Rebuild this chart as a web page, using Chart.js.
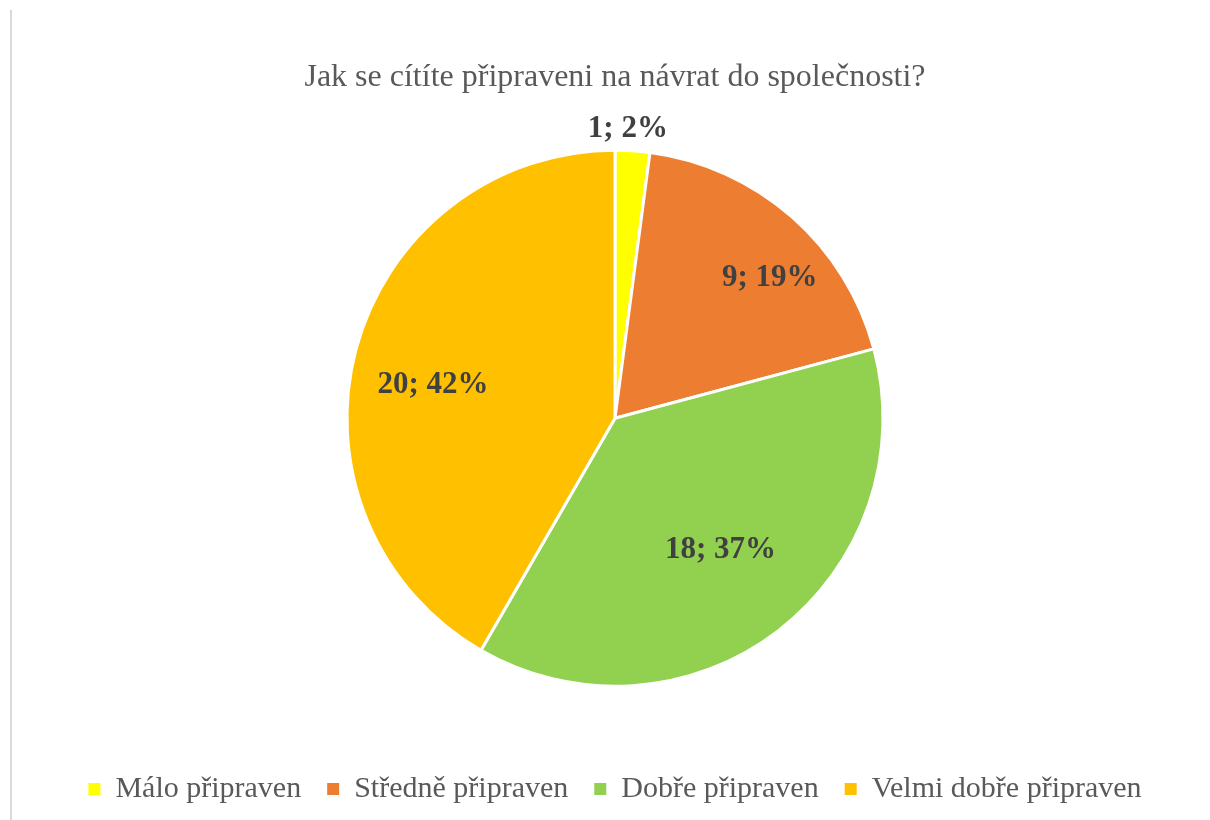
<!DOCTYPE html>
<html>
<head>
<meta charset="utf-8">
<script src="https://cdn.jsdelivr.net/npm/chart.js@4"></script>
<style>
  html, body { margin: 0; padding: 0; background: #fff; }
  #frame {
    position: absolute; left: 10px; top: 10px; width: 1200px; height: 810px;
    border-left: 2px solid #d9d9d9;
  }
  #wrap { position: absolute; left: 30px; top: 0; width: 1180px; height: 820px; }
</style>
</head>
<body>
<div id="frame"></div>
<div id="wrap"><canvas id="myChart" width="1180" height="820"></canvas></div>
<script>
const categories = ['Málo připraven', 'Středně připraven', 'Dobře připraven', 'Velmi dobře připraven'];
const counts = [1, 9, 18, 20];
const percentLabels = ['2%', '19%', '37%', '42%'];
const sliceColors = ['#FFFF00', '#ED7D31', '#92D050', '#FFC000'];

const serif = '"Liberation Serif", "Times New Roman", serif';

// "count; percent" labels, drawn on top of each arc
const sliceLabels = {
  id: 'sliceLabels',
  afterDatasetsDraw(chart, args, opts) {
    const ctx = chart.ctx;
    const meta = chart.getDatasetMeta(0);
    ctx.save();
    ctx.font = 'bold 31px ' + serif;
    ctx.fillStyle = '#404040';
    ctx.textAlign = 'center';
    ctx.textBaseline = 'middle';
    meta.data.forEach(function (arc, i) {
      const p = arc.getProps(['x', 'y', 'startAngle', 'endAngle', 'outerRadius'], true);
      const mid = (p.startAngle + p.endAngle) / 2 + (opts.nudge[i] || 0) * Math.PI / 180;
      const f = opts.fraction[i];
      // fraction > 1 means outside the pie, in px past the edge
      const r = f > 1 ? p.outerRadius + f : p.outerRadius * f;
      const x = p.x + Math.cos(mid) * r;
      const y = p.y + Math.sin(mid) * r;
      ctx.fillText(counts[i] + '; ' + percentLabels[i], x, y);
    });
    ctx.restore();
  }
};

document.addEventListener('DOMContentLoaded', function () {
  const ctx = document.getElementById('myChart').getContext('2d');
  const defaultLabels = Chart.overrides.pie.plugins.legend.labels.generateLabels;
  new Chart(ctx, {
    type: 'pie',
    data: {
      labels: categories,
      datasets: [{
        data: counts,
        backgroundColor: sliceColors,
        borderColor: '#ffffff',
        borderWidth: 3
      }]
    },
    options: {
      responsive: false,
      animation: false,
      radius: 268,
      layout: {
        padding: { top: 58, bottom: 6, left: 0, right: 10 }
      },
      plugins: {
        title: {
          display: true,
          text: 'Jak se cítíte připraveni na návrat do společnosti?',
          color: '#595959',
          font: { family: serif, size: 32, weight: 'normal' },
          padding: { top: 0, bottom: -8 }
        },
        legend: {
          position: 'bottom',
          labels: {
            color: '#595959',
            font: { family: serif, size: 30 },
            boxWidth: 12,
            boxHeight: 12,
            padding: 26,
            generateLabels: function (chart) {
              return defaultLabels(chart).map(function (item) {
                item.lineWidth = 0;
                return item;
              });
            }
          }
        },
        tooltip: { enabled: false },
        sliceLabels: {
          fraction: [22, 0.78, 0.63, 0.69],
          nudge: [-1.2, 6.5, -1.2, -4.8]
        }
      }
    },
    plugins: [sliceLabels]
  });
});
</script>
</body>
</html>
